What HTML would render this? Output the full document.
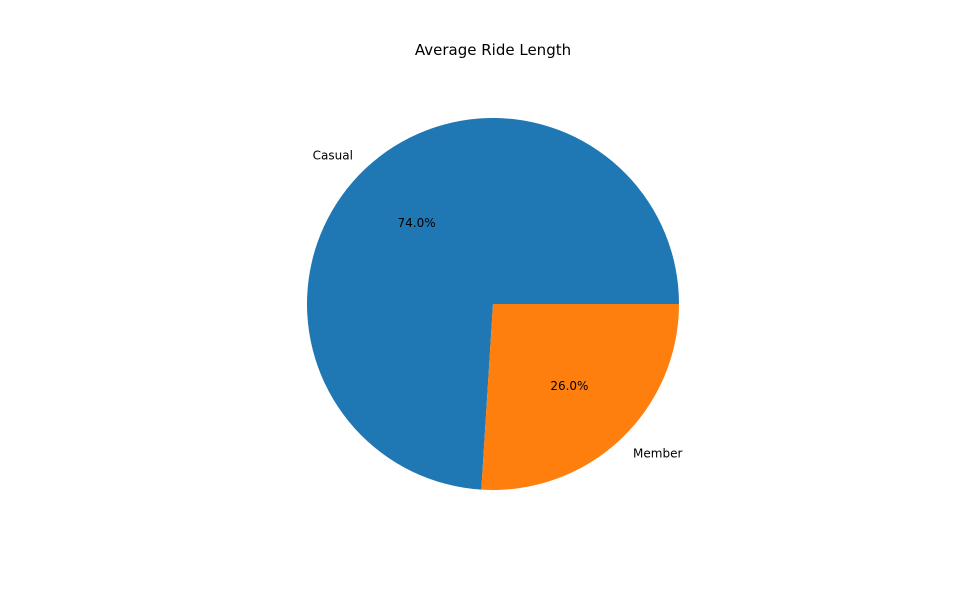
<!DOCTYPE html>
<html><head><meta charset="utf-8"><style>
html,body{margin:0;padding:0;background:#fff;}
svg{display:block;font-family:"DejaVu Sans","Liberation Sans",sans-serif;}
</style></head><body>
<svg id="chart" width="961" height="603" viewBox="0 0 961 603">
<rect width="961" height="603" fill="#fff"/>
<text x="493" y="55" text-anchor="middle" font-size="15" fill="#000">Average Ride Length</text>
<g id="slices"></g>
</svg>
<script>
const categories = ["Casual", "Member"];
const values = [74.0, 26.0];
const colors = ["#1f77b4", "#ff7f0e"];
const cx = 493, cy = 304, r = 186;
const ns = "http://www.w3.org/2000/svg";
const g = document.getElementById("slices");
const total = values.reduce((a,b)=>a+b,0);
function pt(angDeg, rad){const a=angDeg*Math.PI/180;return [cx+rad*Math.cos(a), cy-rad*Math.sin(a)];}
let start = 0;
values.forEach((v,i)=>{
  const sweep = v/total*360, end = start+sweep;
  const [x1,y1]=pt(start,r),[x2,y2]=pt(end,r);
  const p=document.createElementNS(ns,"path");
  p.setAttribute("d",`M${cx},${cy} L${x1},${y1} A${r},${r} 0 ${sweep>180?1:0} 0 ${x2},${y2} Z`);
  p.setAttribute("fill",colors[i]);
  
  
  g.appendChild(p);
  const mid=(start+end)/2;
  const [lx,ly]=pt(mid,r*1.1);
  const t=document.createElementNS(ns,"text");
  t.setAttribute("x",lx);t.setAttribute("y",ly+4.5);
  t.setAttribute("font-size","12");
  t.setAttribute("text-anchor",Math.cos(mid*Math.PI/180)<0?"end":"start");
  t.textContent=categories[i];
  
  
  g.appendChild(t);
  const [px,py]=pt(mid,r*0.6);
  const q=document.createElementNS(ns,"text");
  q.setAttribute("x",px);q.setAttribute("y",py+4.5);
  q.setAttribute("font-size","12");q.setAttribute("text-anchor","middle");
  q.textContent=(v/total*100).toFixed(1)+"%";
  
  
  g.appendChild(q);
  start=end;
});
</script>
</body></html>
